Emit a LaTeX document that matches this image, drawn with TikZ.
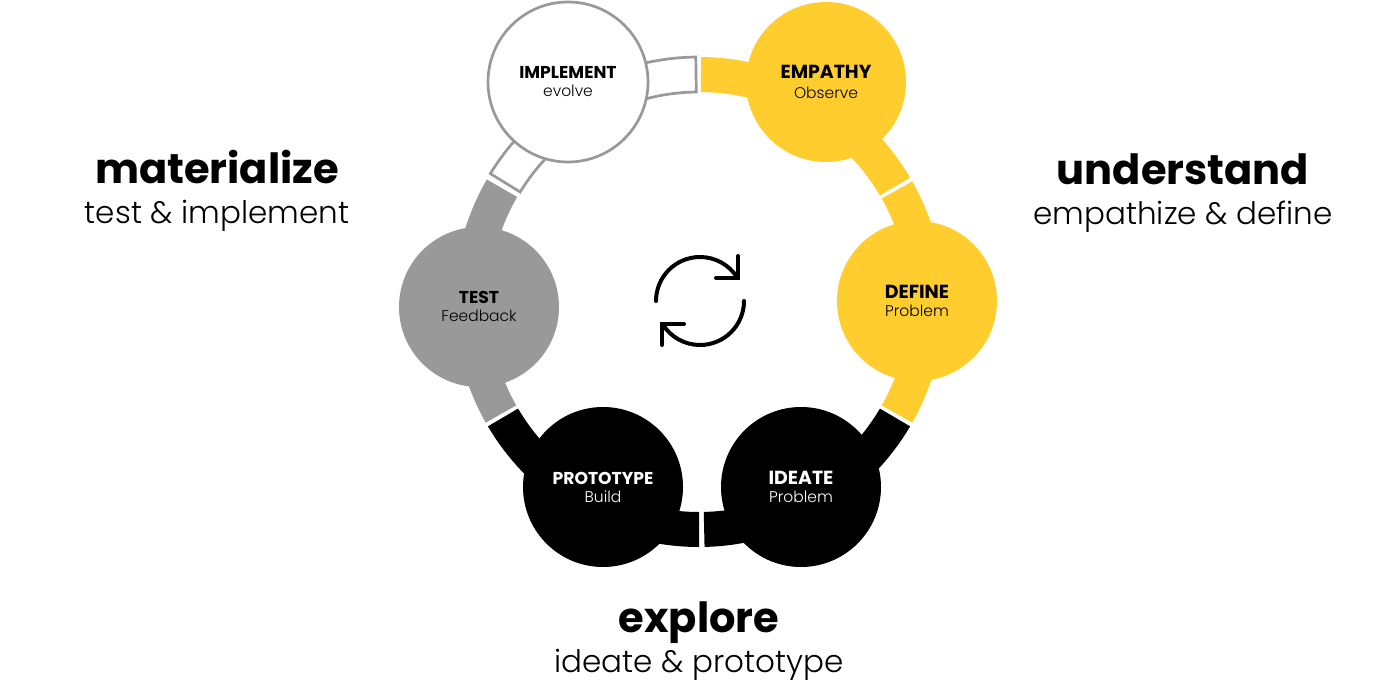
\documentclass[tikz,border=0pt]{standalone}
\usepackage{fontspec}
\setmainfont{Poppins}
\newfontfamily\plight{Poppins Light}
\newcommand{\annsec}[3]{%
  \path[#3] ([shift={(ring)}]#1:245) arc[start angle=#1,end angle=#2,radius=245]
    -- ([shift={(ring)}]#2:210) arc[start angle=#2,end angle=#1,radius=210] -- cycle;}
\definecolor{ylw}{HTML}{FFCE2E}
\definecolor{gry}{HTML}{999999}
\tikzset{
  x=1pt,y=1pt,
  stage/.style={circle,minimum size=160pt,inner sep=0pt,outer sep=0pt},
  head/.style={font=\bfseries\fontsize{17.2}{17}\selectfont,anchor=base},
  headb/.style={font=\bfseries\fontsize{18.9}{17}\selectfont,anchor=base},
  sub/.style={font=\plight\fontsize{15.5}{15}\selectfont,anchor=base},
  bighead/.style={font=\bfseries\fontsize{41.6}{40}\selectfont,anchor=base},
  bigsub/.style={font=\plight\fontsize{31}{30}\selectfont,anchor=base},
  icon/.style={line width=4pt,line cap=round,line join=miter}
}
\begin{document}
\begin{tikzpicture}
\useasboundingbox (0,0) rectangle (1397,697);
\fill[white] (0,0) rectangle (1397,697);
\coordinate (ring) at (699,395);
% ring segments
\annsec{89.5}{30.5}{fill=ylw}
\annsec{29.5}{-29.5}{fill=ylw}
\annsec{-30.5}{-88.7}{fill=black}
\annsec{-90}{-149.5}{fill=black}
\annsec{-150.5}{-210}{fill=gry}
\annsec{148.4}{90.75}{draw=gry,line width=2.7pt,fill=white}
% stages
\node[stage,fill=ylw] (empathy) at (826,615) {};
\node[stage,fill=ylw] (define) at (917,396) {};
\node[stage,fill=black] (ideate) at (801,210) {};
\node[stage,fill=black] (prototype) at (603,210) {};
\node[stage,fill=gry] (test) at (479,390) {};
\node[stage,draw=gry,line width=2.7pt,fill=white] (implement) at (568,615) {};
% stage labels
\node[head] at (568,618.5) {IMPLEMENT};
\node[sub] at (568,600.3) {evolve};
\node[headb] at (826,618.5) {EMPATHY};
\node[sub] at (826,598.2) {Observe};
\node[headb] at (917,398.5) {DEFINE};
\node[sub] at (917,380) {Problem};
\node[headb,white] at (801,213) {IDEATE};
\node[sub,white] at (801,194.5) {Problem};
\node[head,white] at (603,213) {PROTOTYPE};
\node[sub,white] at (603,195) {Build};
\node[head] at (479,393.5) {TEST};
\node[sub] at (479,375.2) {Feedback};
% side labels
\node[bighead] at (217,513) {materialize};
\node[bigsub] at (217,473.5) {test \& implement};
\node[bighead] at (1183,512) {understand};
\node[bigsub] at (1183,472) {empathize \& define};
\node[bighead] at (699,65) {explore};
\node[bigsub] at (699,24.5) {ideate \& prototype};
% cycle icon
\coordinate (ic) at (700,396);
\draw[icon] ([shift={(ic)}]180:44) arc[start angle=180,end angle=32,radius=44];
\draw[icon] (738,441) -- (738,419) -- (716,419);
\draw[icon] ([shift={(ic)}]0:44) arc[start angle=0,end angle=-148,radius=44];
\draw[icon] (662,352) -- (662,373) -- (684,373);
\end{tikzpicture}
\end{document}
